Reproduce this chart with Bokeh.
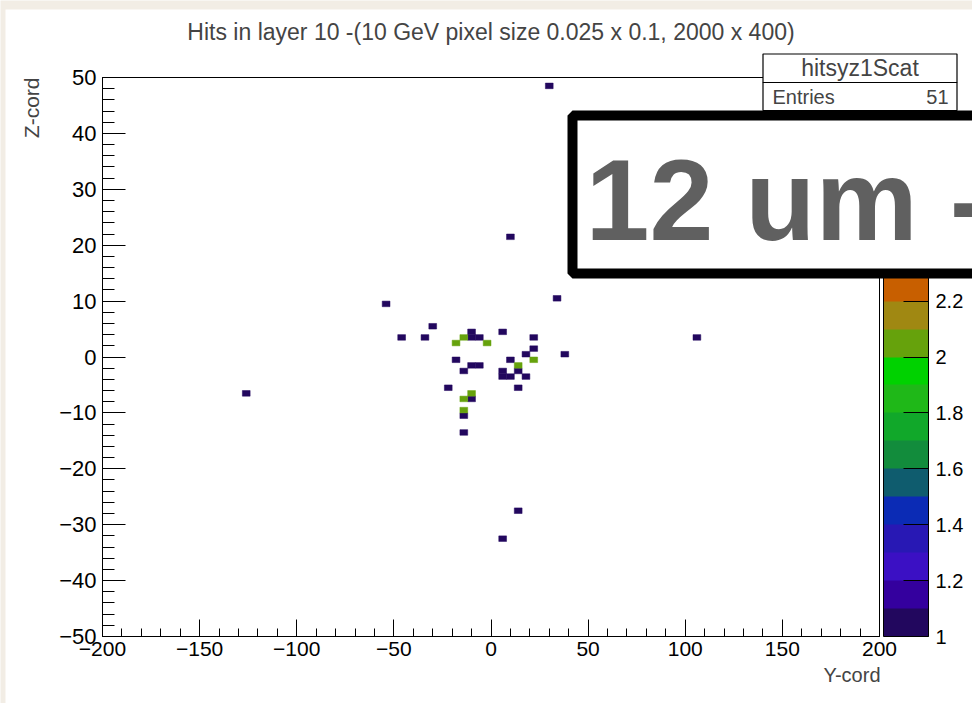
import math
from bokeh.plotting import figure
from bokeh.models import (ColumnDataSource, LinearColorMapper, ColorBar, FixedTicker, LinearAxis,
                          Label, BoxAnnotation, Range1d, CustomJSTickFormatter)
from bokeh.transform import transform
from bokeh.embed import file_html
from bokeh.resources import INLINE

# ---------------- data (occupied bins: 4 units wide in Y-cord, 1 unit in Z-cord) ----------------
hit_y = [30, 10, 34, -54, 106, -126, 14, 6, 38,
         -30, -46, -34, -10, -10, -6, 6, 22, 22, 18, -18, 10, -10, -6, -14, 6, 6, 10, 14, 18,
         -22, 14, -10, -14, -14,
         -14, -18, -2, 22, 14, -10, -14, -14]
hit_z = [48.5, 21.5, 10.5, 9.5, 3.5, -6.5, -27.5, -32.5, 0.5,
         5.5, 3.5, 3.5, 4.5, 3.5, 3.5, 4.5, 3.5, 1.5, 0.5, -0.5, -0.5, -1.5, -1.5, -2.5, -2.5, -3.5, -3.5, -2.5, -3.5,
         -5.5, -5.5, -7.5, -10.5, -13.5,
         3.5, 2.5, 2.5, -0.5, -1.5, -6.5, -7.5, -9.5]
hit_n = [1, 1, 1, 1, 1, 1, 1, 1, 1,
         1, 1, 1, 1, 1, 1, 1, 1, 1, 1, 1, 1, 1, 1, 1, 1, 1, 1, 1, 1,
         1, 1, 1, 1, 1,
         2, 2, 2, 2, 2, 2, 2, 2]

x_ticks = [-200, -150, -100, -50, 0, 50, 100, 150, 200]
x_minor = list(range(-200, 201, 10))
y_ticks = [-50, -40, -30, -20, -10, 0, 10, 20, 30, 40, 50]
y_minor = list(range(-50, 51, 2))
z_ticks = [1, 1.2, 1.4, 1.6, 1.8, 2, 2.2, 2.4, 2.6, 2.8, 3]
palette = ["#22075e", "#34009e", "#3b10c4", "#2818b4", "#0b2bb5", "#0f5c6e", "#128c3c",
           "#11a82a", "#1fb818", "#00d200", "#66a20c", "#a08812", "#c85f00", "#d24a00",
           "#dc3600", "#e22a00", "#e81e00", "#ee1400", "#f40a00", "#fa0000"]

TITLE = "Hits in layer 10 -(10 GeV pixel size 0.025 x 0.1, 2000 x 400)"
FONT = "Liberation Sans"

# ---------------- layout (pixels) ----------------
W, H = 972, 703
FL, FR, FT, FB = 102, 879, 77, 636
X0, X1, Y0, Y1 = -200, 200, -50, 50
BASE = 0.35  # anchor shift (in em) so that the text baseline lands where wanted


def sx(px):
    return X0 + (px - FL) * (X1 - X0) / (FR - FL)


def sy(py):
    return Y1 - (py - FT) * (Y1 - Y0) / (FB - FT)


# the frame spans the whole canvas; the ROOT frame is drawn inside it
p = figure(width=W, height=H, x_range=Range1d(sx(0), sx(W)), y_range=Range1d(sy(H), sy(0)),
           output_backend="svg", toolbar_location=None,
           x_axis_location=None, y_axis_location=None,
           min_border_left=0, min_border_right=0, min_border_top=0, min_border_bottom=0)
p.title.visible = False
p.border_fill_color = "#f2ede5"
p.background_fill_color = "#f2ede5"
p.outline_line_color = None
p.grid.visible = False

# white ROOT canvas
p.add_layout(BoxAnnotation(left=sx(5), right=sx(1100), top=sy(9), bottom=sy(760),
                           fill_color="white", fill_alpha=1, line_color=None, level="underlay"))

fmt = CustomJSTickFormatter(code="""
const v = Math.round(tick * 10) / 10;
return (v < 0 ? "\u2212" : "") + String(Math.abs(v));
""")

xaxis = LinearAxis(fixed_location=Y0, bounds=(X0, X1),
                   ticker=FixedTicker(ticks=x_ticks, minor_ticks=x_minor), formatter=fmt)
yaxis = LinearAxis(fixed_location=X0, bounds=(Y0, Y1),
                   ticker=FixedTicker(ticks=y_ticks, minor_ticks=y_minor), formatter=fmt)
for ax in (xaxis, yaxis):
    ax.axis_line_color = "black"
    ax.major_tick_line_color = "black"
    ax.minor_tick_line_color = "black"
    ax.major_tick_out = 0
    ax.minor_tick_out = 0
    ax.major_label_text_font = FONT
    ax.major_label_text_color = "black"
xaxis.major_label_text_font_size = "21px"
xaxis.major_tick_in = 17
xaxis.minor_tick_in = 8
xaxis.major_label_standoff = 5
yaxis.major_label_text_font_size = "22px"
yaxis.major_tick_in = 23
yaxis.minor_tick_in = 12
yaxis.major_label_standoff = 6
p.add_layout(xaxis, "below")
p.add_layout(yaxis, "left")

mapper = LinearColorMapper(palette=palette, low=1, high=3)
src = ColumnDataSource(dict(y=hit_y, z=hit_z, n=hit_n))
p.rect(x="y", y="z", width=4, height=1, source=src,
       fill_color=transform("n", mapper), line_color=transform("n", mapper), line_width=0.5)

# frame box
p.add_layout(BoxAnnotation(left=X0, right=X1, top=Y1, bottom=Y0, fill_color=None,
                           line_color="black", line_alpha=1, line_width=1))

cb = ColorBar(color_mapper=mapper, width=45, height=FB - FT, location=(883, H - FB),
              ticker=FixedTicker(ticks=z_ticks), formatter=fmt,
              major_label_text_font=FONT, major_label_text_font_size="20px",
              major_label_text_color="black",
              major_tick_in=25, major_tick_out=0, major_tick_line_color="black",
              minor_tick_line_color=None, bar_line_color="black", bar_line_width=1,
              border_line_color=None, background_fill_color=None,
              padding=0, margin=0, label_standoff=7)
p.add_layout(cb)


def text(px, py, s, size, align="left", angle=0.0, **kw):
    if angle:
        lab = Label(x=sx(px - BASE * size), y=sy(py), text=s, angle=angle, text_align=align,
                    text_baseline="alphabetic", text_font=FONT, text_font_size=f"{size}px", **kw)
    else:
        lab = Label(x=sx(px), y=sy(py - BASE * size), text=s, text_align=align,
                    text_baseline="alphabetic", text_font=FONT, text_font_size=f"{size}px", **kw)
    p.add_layout(lab)


# title and axis titles
text(490.5, 40, TITLE, 23, align="center")
text(880, 681, "Y-cord", 20, align="right")
text(38, 77, "Z-cord", 21, align="right", angle=math.pi / 2)

# statistics box
p.add_layout(BoxAnnotation(left=sx(762.5), right=sx(956.5), top=sy(53.5), bottom=sy(82),
                           fill_color="white", fill_alpha=1, line_color="black", line_alpha=1,
                           line_width=1.2))
p.add_layout(BoxAnnotation(left=sx(762.5), right=sx(956.5), top=sy(82), bottom=sy(110),
                           fill_color="white", fill_alpha=1, line_color="black", line_alpha=1,
                           line_width=1.2))
text(859.5, 76, "hitsyz1Scat", 23, align="center")
text(772, 103.5, "Entries", 20)
text(948, 103.5, "51", 20, align="right")

# overlay annotation box
p.add_layout(BoxAnnotation(left=sx(572), right=sx(1100), top=sy(115), bottom=sy(273),
                           fill_color="white", fill_alpha=1, line_color="black", line_alpha=1,
                           line_width=10))
text(585, 239.5, "12 um -", 115, text_font_style="bold", text_color="#606060")

open("out.html", "w").write(file_html(p, INLINE))
